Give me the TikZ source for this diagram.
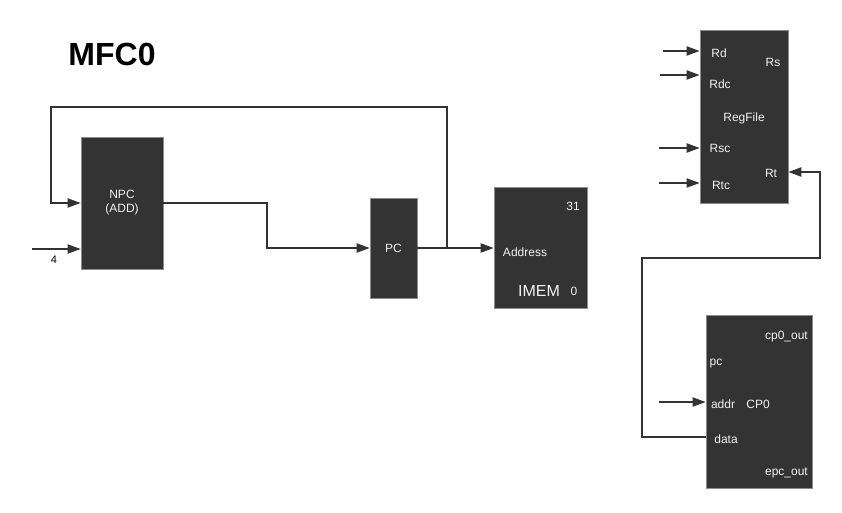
\documentclass[tikz,border=0pt]{standalone}
\usepackage{fontspec}
\setmainfont{Liberation Sans}
\usepackage{tikz}
\usetikzlibrary{positioning,arrows.meta}
\usepackage{xcolor}
\definecolor{blockgray}{HTML}{333333}
\definecolor{edgegray}{HTML}{8C8C8C}
\definecolor{labelgray}{HTML}{F2F2F2}

\begin{document}
\begin{tikzpicture}[
  x=1pt, y=-1pt,
  >={Triangle[length=13pt,width=9pt]},
  wire/.style={draw=blockgray, line width=1.9pt},
  block/.style={draw=edgegray, line width=0.6pt, fill=blockgray, inner sep=0pt, text=labelgray, font=\fontsize{12}{14}\selectfont, align=center},
  port/.style={inner sep=0pt, text=labelgray, font=\fontsize{12}{14}\selectfont}
]
\useasboundingbox (0,0) rectangle (842,513);

\node[font=\fontsize{32}{36}\selectfont\bfseries, text=black] (title) at (112,54) {MFC0};

% datapath blocks
\node[block, minimum width=82pt, minimum height=132pt] (npc) at (122,203) {NPC\\(ADD)};
\node[block, minimum width=47pt, minimum height=100pt] (pc) at (393.5,248) {PC};
\node[block, minimum width=93pt, minimum height=121pt] (imem) at (540.5,247.5) {};
\node[block, minimum width=88pt, minimum height=173pt] (rf) at (744,116.5) {};
\node[block, minimum width=106pt, minimum height=173pt] (cp0) at (759,401.5) {};

% IMEM ports
\node[port] (imemhi) at (573,206) {31};
\node[port] (imemaddr) at (525,252) {Address};
\node[port, font=\fontsize{16}{18}\selectfont] (imemname) at (539,291) {IMEM};
\node[port] (imemlo) at (574,291) {0};

% RegFile ports
\node[port] (rd) at (719,53) {Rd};
\node[port] (rs) at (773,62) {Rs};
\node[port] (rdc) at (720,84) {Rdc};
\node[port] (rfname) at (744,118) {RegFile};
\node[port] (rsc) at (720,148) {Rsc};
\node[port] (rt) at (771,173) {Rt};
\node[port] (rtc) at (721,185) {Rtc};

% CP0 ports
\node[port, anchor=east] (cpout) at (808,337) {cp0\_out};
\node[port] (cppc) at (716,364) {pc};
\node[port] (cpaddr) at (723,404) {addr};
\node[port] (cpname) at (758,404) {CP0};
\node[port] (cpdata) at (726,439) {data};
\node[port, anchor=east] (cpepc) at (808,473) {epc\_out};

% free ends
\coordinate (four) at (32,249);
\coordinate (fb) at (447,248);
\coordinate (fbtop) at (51,107);
\coordinate (rdin) at (663,51);
\coordinate (rdcin) at (660,75);
\coordinate (rscin) at (659,148);
\coordinate (rtcin) at (659,183);
\coordinate (addrin) at (659,402);
\coordinate (loopl) at (642,258);
\coordinate (loopr) at (820,258);

% wires
\draw[wire,->] (four) -- (npc.west |- four);
\node[inner sep=0pt, font=\fontsize{11}{13}\selectfont] (fourlbl) at (54,260) {4};
\draw[wire,->] (npc.east) -- ++(104,0) |- (pc.west);
\draw[wire,->] (pc.east) -- (imem.west |- pc.east);
\draw[wire,->] (fb) |- (fbtop) |- (npc.west);

\draw[wire,->] (rdin) -- (rf.west |- rdin);
\draw[wire,->] (rdcin) -- (rf.west |- rdcin);
\draw[wire,->] (rscin) -- (rf.west |- rscin);
\draw[wire,->] (rtcin) -- (rf.west |- rtcin);

\draw[wire,->] (addrin) -- (cp0.west |- addrin);
\draw[wire,->] (cp0.west |- 0,437) -| (loopl) -- (loopr) |- (rf.east |- 0,172);
\end{tikzpicture}
\end{document}
